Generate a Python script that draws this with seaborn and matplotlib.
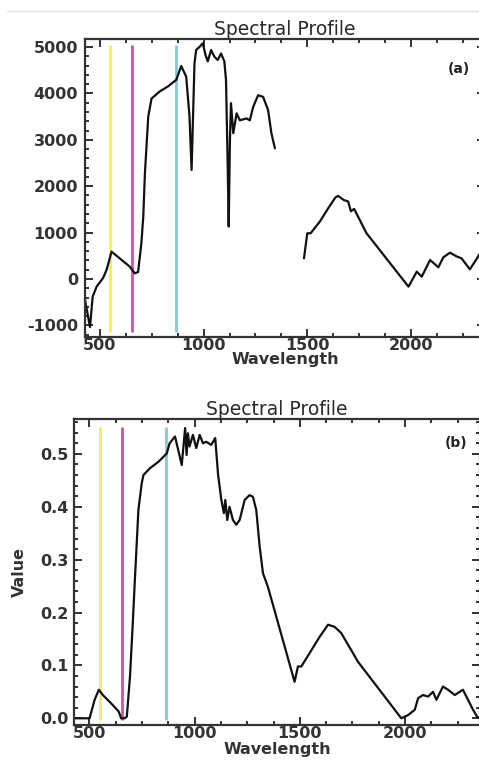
import numpy as np
import pandas as pd
import matplotlib
matplotlib.use('Agg')
import matplotlib.pyplot as plt
from matplotlib.ticker import MultipleLocator, FormatStrFormatter
import seaborn as sns

# (a) raw profile, two pieces (water band gap between them)
wl_a1 = [428, 452, 465, 484, 515, 532, 556, 644, 668, 684, 700, 709, 717, 733, 749, 788, 828,
         868, 892, 916, 932, 942, 956, 964, 980, 996, 1009, 1020, 1036, 1052, 1068, 1084, 1100,
         1108, 1116, 1121, 1127, 1132, 1143, 1159, 1175, 1207, 1223, 1239, 1263, 1287, 1311,
         1327, 1344]
val_a1 = [-450, -1035, -380, -165, 20, 195, 590, 266, 122, 150, 775, 1345, 2280, 3500, 3890,
          4040, 4150, 4290, 4590, 4360, 3500, 2350, 4650, 4935, 5000, 5080, 4830, 4690, 4935,
          4790, 4720, 4860, 4690, 4290, 2490, 1130, 3000, 3790, 3140, 3570, 3420, 3460, 3420,
          3710, 3960, 3925, 3640, 3140, 2815]
wl_a2 = [1484, 1500, 1516, 1561, 1601, 1636, 1649, 1676, 1697, 1710, 1726, 1755, 1785, 1988,
         2028, 2052, 2092, 2132, 2156, 2188, 2220, 2244, 2284, 2308, 2330, 2357]
val_a2 = [445, 985, 985, 1240, 1525, 1760, 1790, 1702, 1670, 1460, 1510, 1255, 990, -165, 158,
          50, 410, 252, 467, 567, 487, 445, 208, 373, 530, 650]

# (b) reflectance profile
wl_b = [427, 501, 525, 545, 564, 604, 639, 651, 667, 678, 693, 705, 717, 733, 749, 757, 788,
        828, 868, 881, 907, 939, 955, 962, 968, 976, 992, 1008, 1024, 1040, 1055, 1079, 1098,
        1111, 1127, 1139, 1146, 1155, 1166, 1182, 1198, 1214, 1238, 1261, 1277, 1293, 1309,
        1325, 1348, 1475, 1491, 1507, 1546, 1594, 1634, 1665, 1697, 1744, 1776, 1982, 2014,
        2046, 2062, 2085, 2109, 2133, 2149, 2180, 2204, 2236, 2275, 2299, 2323, 2342, 2356]
val_b = [0, 0, 0.035, 0.054, 0.044, 0.028, 0.013, 0, 0, 0.003, 0.079, 0.17, 0.268, 0.394,
         0.445, 0.46, 0.473, 0.485, 0.501, 0.52, 0.533, 0.479, 0.549, 0.498, 0.539, 0.514,
         0.536, 0.511, 0.536, 0.52, 0.523, 0.517, 0.53, 0.463, 0.413, 0.388, 0.413, 0.375,
         0.40, 0.375, 0.366, 0.375, 0.413, 0.422, 0.419, 0.394, 0.325, 0.274, 0.249, 0.069,
         0.098, 0.098, 0.123, 0.154, 0.177, 0.173, 0.161, 0.129, 0.107, 0.0, 0.006, 0.016,
         0.038, 0.044, 0.041, 0.05, 0.035, 0.06, 0.054, 0.044, 0.054, 0.035, 0.016, 0.003, 0.0]

band_wl = [550, 655, 865]
band_colors = ['#f3ec5e', '#c257a8', '#86c9d8']

sns.set_style('ticks')
plt.rcParams['font.family'] = ['DejaVu Sans']
plt.rcParams['axes.linewidth'] = 1.6

df_a = pd.DataFrame({'wl': wl_a1 + wl_a2, 'val': val_a1 + val_a2,
                     'seg': [0] * len(wl_a1) + [1] * len(wl_a2)})
df_b = pd.DataFrame({'wl': wl_b, 'val': val_b})

fig = plt.figure(figsize=(4.79, 7.61), dpi=100)
ax_a = fig.add_axes([85 / 479, 1 - 337 / 761, 400 / 479, 298 / 761])
ax_b = fig.add_axes([74 / 479, 1 - 725 / 761, 406 / 479, 306 / 761])
fig.add_artist(plt.Line2D([0.015, 1.0], [1 - 11 / 761] * 2, color='#e2e2e2', lw=1))


def style_axis(ax, xlim, ylim, ymajor, yminor, yfmt, ypad):
    ax.set_xlim(*xlim)
    ax.set_ylim(*ylim)
    ax.xaxis.set_major_locator(MultipleLocator(500))
    ax.xaxis.set_minor_locator(MultipleLocator(125))
    ax.yaxis.set_major_locator(MultipleLocator(ymajor))
    ax.yaxis.set_minor_locator(MultipleLocator(yminor))
    ax.yaxis.set_major_formatter(FormatStrFormatter(yfmt))
    ax.tick_params(which='both', direction='in', top=True, right=True, color='#222222', width=1.3)
    ax.tick_params(which='major', length=6, labelsize=11.5)
    ax.tick_params(which='minor', length=3)
    ax.tick_params(axis='x', pad=1)
    ax.tick_params(axis='y', pad=ypad)
    for lab in ax.get_xticklabels() + ax.get_yticklabels():
        lab.set_fontweight('bold')
        lab.set_color('#333333')
    for sp in ax.spines.values():
        sp.set_color('#333333')
    ax.set_title('Spectral Profile', fontsize=13.5, color='#2a2a2a', pad=2)


# panel (a)
for x, c in zip(band_wl, band_colors):
    ax_a.vlines(x, -1150, 5040, color=c, lw=2)
sns.lineplot(data=df_a, x='wl', y='val', units='seg', estimator=None, sort=False,
             color='#111111', lw=1.6, ax=ax_a)
style_axis(ax_a, (428, 2357), (-1250, 5172), 1000, 200, '%d', 5)
ax_a.set_ylabel('')
ax_a.set_xlabel('Wavelength', fontsize=11.5, fontweight='bold', color='#333333', va='top')
ax_a.xaxis.set_label_coords(0.5, -0.05)
ax_a.text(0.935, 0.9, '(a)', transform=ax_a.transAxes, fontsize=10, fontweight='bold',
          ha='center', va='center', color='#222222')

# panel (b)
for x, c in zip(band_wl, band_colors):
    ax_b.vlines(x, -0.003, 0.551, color=c, lw=2)
sns.lineplot(data=df_b, x='wl', y='val', estimator=None, sort=False,
             color='#111111', lw=1.6, ax=ax_b)
style_axis(ax_b, (427, 2356), (-0.0127, 0.566), 0.1, 0.02, '%.1f', 4)
ax_b.set_xlabel('Wavelength', fontsize=11.5, fontweight='bold', color='#333333', va='top')
ax_b.xaxis.set_label_coords(0.5, -0.055)
ax_b.set_ylabel('Value', fontsize=11.5, fontweight='bold', color='#333333')
ax_b.yaxis.set_label_coords(-0.115, 0.5)
ax_b.text(0.94, 0.92, '(b)', transform=ax_b.transAxes, fontsize=10, fontweight='bold',
          ha='center', va='center', color='#222222')

fig.savefig('out.png', dpi=100)
